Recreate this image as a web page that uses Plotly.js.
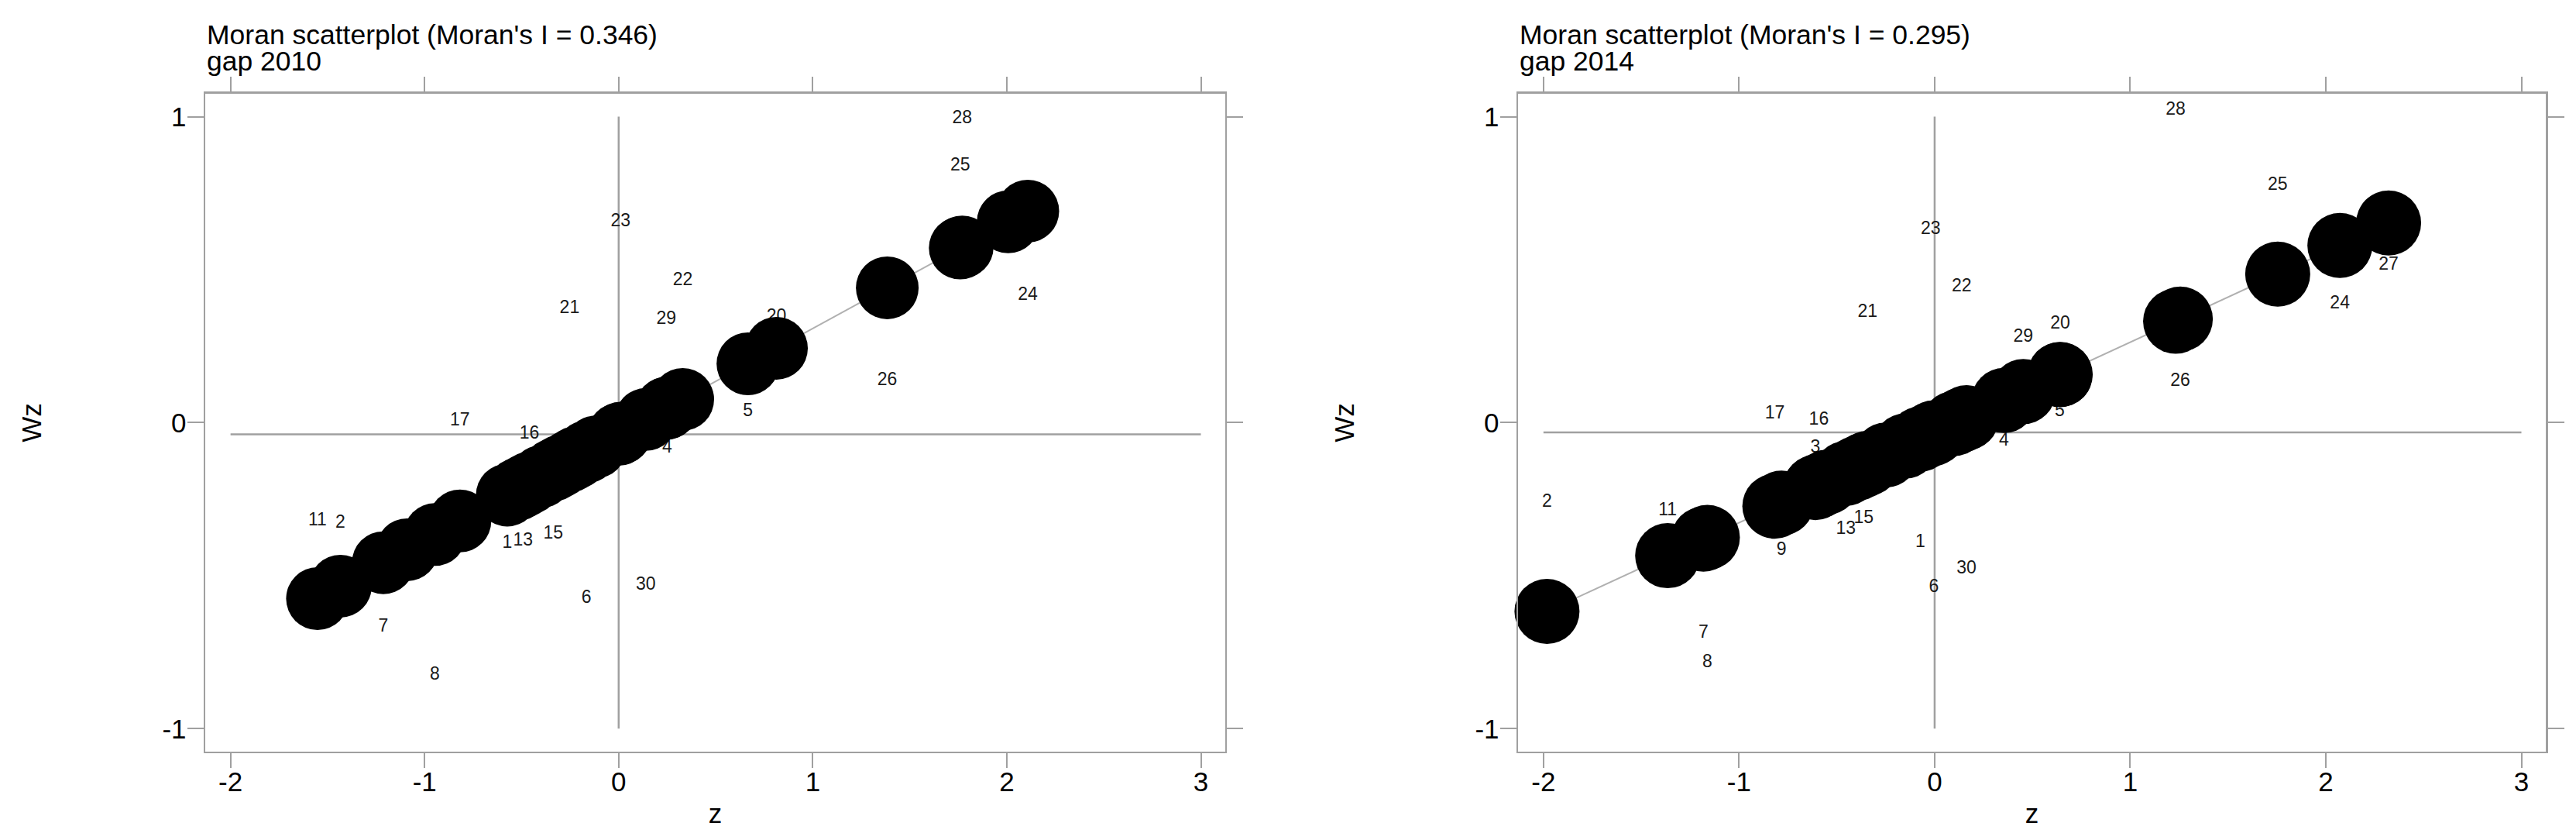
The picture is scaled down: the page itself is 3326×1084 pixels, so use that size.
<!DOCTYPE html>
<html>
<head>
<meta charset="utf-8">
<script src="https://cdn.plot.ly/plotly-3.0.1.min.js"></script>
<style>
  html, body { margin: 0; padding: 0; background: #ffffff; }
  #chart { width: 3326px; height: 1084px; }
</style>
</head>
<body>
<div id="chart"></div>
<script>
// ---------------- DATA ----------------
const ids = ['1','2','3','4','5','6','7','8','9','10','11','12','13','14','15',
             '16','17','18','19','20','21','22','23','24','25','26','27','28','29','30'];

// gap 2010: standardized value z and spatial lag Wz
const z2010  = [-0.574, -1.434, -0.52, 0.25, 0.666, -0.166, -1.213, -0.947, -1.09, -0.40,
                -1.552, -0.30, -0.493, -0.22, -0.337, -0.46, -0.818, -0.12, 0.00, 0.813,
                -0.253, 0.33, 0.01, 2.108, 1.76, 1.384, 2.007, 1.77, 0.245, 0.14];
const wz2010 = [-0.395, -0.329, -0.22, -0.082, 0.035, -0.574, -0.667, -0.824, -0.42, -0.18,
                -0.322, -0.14, -0.388, -0.12, -0.364, -0.038, 0.006, -0.08, -0.04, 0.344,
                0.372, 0.464, 0.656, 0.416, 0.839, 0.138, 0.64, 0.993, 0.337, -0.532];

// gap 2014
const z2014  = [-0.073, -1.982, -0.61, 0.354, 0.64, -0.004, -1.182, -1.162, -0.783, -0.55,
                -1.365, -0.40, -0.454, -0.25, -0.363, -0.592, -0.817, -0.15, 0.10, 0.642,
                -0.343, 0.138, -0.02, 2.072, 1.754, 1.256, 2.321, 1.232, 0.453, 0.163];
const wz2014 = [-0.392, -0.261, -0.084, -0.061, 0.035, -0.540, -0.688, -0.784, -0.418, -0.19,
                -0.287, -0.16, -0.348, -0.10, -0.314, 0.007, 0.029, -0.06, 0.00, 0.322,
                0.360, 0.444, 0.630, 0.388, 0.775, 0.134, 0.514, 1.022, 0.279, -0.479];

// Moran's I (slope) and means (reference lines)
const moranI2010 = 0.346, moranI2014 = 0.295;
const meanZ2010 = 0, meanZ2014 = 0;
const meanWz2010 = -0.038, meanWz2014 = -0.032;

const title2010 = "Moran scatterplot (Moran's I = 0.346)";
const sub2010 = "gap 2010";
const title2014 = "Moran scatterplot (Moran's I = 0.295)";
const sub2014 = "gap 2014";

const xTickVals = [-2, -1, 0, 1, 2, 3];
const xTickText = ['-2', '-1', '0', '1', '2', '3'];
const yTickVals = [-1, 0, 1];
const yTickText = ['-1', '0', '1'];
const xRefExtent = [-2, 3];
const yRefExtent = [-1, 1];

// ---------------- STYLE ----------------
const FONT = 'Liberation Sans, Arial, Helvetica, sans-serif';
const GREY = '#a0a0a0';

function fittedTrace(z, I, mWz, mZ, xa, ya, msize) {
  const order = z.map((v, i) => i).sort((a, b) => z[a] - z[b]);
  const xs = order.map(i => z[i]);
  const ys = order.map(i => mWz + I * (z[i] - mZ));
  return {
    type: 'scatter', mode: 'lines+markers', x: xs, y: ys, xaxis: xa, yaxis: ya,
    line: { color: '#b0b0b0', width: 2 },
    marker: { color: '#000000', size: msize, line: { width: 0 } },
    hoverinfo: 'skip', showlegend: false, cliponaxis: false
  };
}
function labelTrace(z, wz, xa, ya) {
  return {
    type: 'scatter', mode: 'text', x: z, y: wz, text: ids, xaxis: xa, yaxis: ya,
    textposition: 'middle center',
    textfont: { family: FONT, size: 23, color: '#1a1a1a' },
    hoverinfo: 'text', showlegend: false, cliponaxis: false
  };
}

const data = [
  labelTrace(z2010, wz2010, 'x', 'y'),
  fittedTrace(z2010, moranI2010, meanWz2010, meanZ2010, 'x', 'y', 81),
  labelTrace(z2014, wz2014, 'x2', 'y2'),
  fittedTrace(z2014, moranI2014, meanWz2014, meanZ2014, 'x2', 'y2', 84)
];

function xAxis(domain, anchor) {
  return {
    domain: domain, anchor: anchor, range: [-2.13, 3.125],
    tickvals: xTickVals, ticktext: xTickText,
    ticks: 'outside', ticklen: 19, tickwidth: 2, tickcolor: GREY,
    ticklabelstandoff: -12,
    showline: true, linecolor: GREY, linewidth: 2.5, mirror: 'allticks',
    showgrid: false, zeroline: false,
    tickfont: { family: FONT, size: 35, color: '#000' },
    title: { text: 'z', font: { family: FONT, size: 35, color: '#000' }, standoff: 10 }
  };
}
function yAxis(anchor) {
  return {
    domain: [0.1052, 0.8884], anchor: anchor, range: [-1.075, 1.075],
    tickvals: yTickVals, ticktext: yTickText,
    ticks: 'outside', ticklen: 21, tickwidth: 2, tickcolor: GREY,
    ticklabelstandoff: -6,
    showline: true, linecolor: GREY, linewidth: 2.5, mirror: 'allticks',
    showgrid: false, zeroline: false,
    tickfont: { family: FONT, size: 35, color: '#000' },
    title: { text: 'Wz', font: { family: FONT, size: 35, color: '#000' }, standoff: 145 }
  };
}

function refShapes(xa, ya, mZ, mWz) {
  return [
    { type: 'line', xref: xa, yref: ya, x0: xRefExtent[0], x1: xRefExtent[1], y0: mWz, y1: mWz,
      line: { color: GREY, width: 2.5 }, layer: 'below' },
    { type: 'line', xref: xa, yref: ya, x0: mZ, x1: mZ, y0: yRefExtent[0], y1: yRefExtent[1],
      line: { color: GREY, width: 2.5 }, layer: 'below' }
  ];
}

function titleAnn(text, xpaper, ypaper) {
  return { text: text, xref: 'paper', yref: 'paper', x: xpaper, y: ypaper,
           xanchor: 'left', yanchor: 'middle', showarrow: false,
           font: { family: FONT, size: 35.5, color: '#000' } };
}

const layout = {
  width: 3326, height: 1084,
  margin: { l: 0, r: 0, t: 0, b: 0, pad: 0 },
  paper_bgcolor: '#ffffff', plot_bgcolor: '#ffffff',
  showlegend: false,
  xaxis: xAxis([0.0797, 0.4756], 'y'),
  yaxis: yAxis('x'),
  xaxis2: xAxis([0.5893, 0.9883], 'y2'),
  yaxis2: yAxis('x2'),
  shapes: refShapes('x', 'y', meanZ2010, meanWz2010).concat(refShapes('x2', 'y2', meanZ2014, meanWz2014)),
  annotations: [
    titleAnn(title2010, 0.0797, 0.9589),
    titleAnn(sub2010, 0.0797, 0.9272),
    titleAnn(title2014, 0.5893, 0.9589),
    titleAnn(sub2014, 0.5893, 0.9272)
  ]
};

Plotly.newPlot('chart', data, layout, { displayModeBar: false, staticPlot: true });
</script>
</body>
</html>
